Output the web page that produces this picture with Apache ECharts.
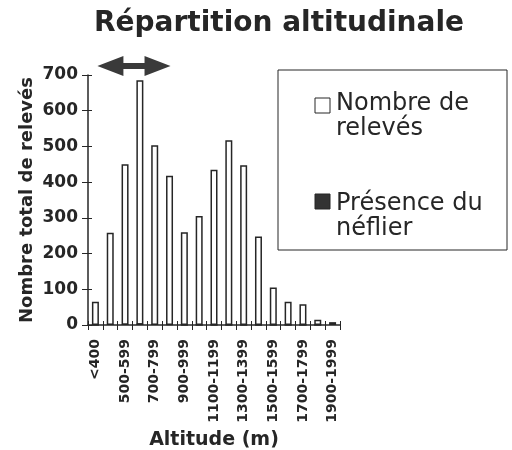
<!DOCTYPE html>
<html><head><meta charset="utf-8">
<script src="https://cdn.jsdelivr.net/npm/echarts@6/dist/echarts.min.js"></script>
<style>html,body{margin:0;padding:0;background:#fff}#c{width:512px;height:450px}</style>
</head><body><div id="c"></div>
<script>
const categories = ['<400','400-499','500-599','600-699','700-799','800-899','900-999','1000-1099','1100-1199','1200-1299','1300-1399','1400-1499','1500-1599','1600-1699','1700-1799','1800-1899','1900-1999'];
const releves = [65,258,450,685,503,418,260,305,435,517,447,248,105,65,58,15,8];
const neflier = [0,3,4,5,3,2,0,0,0,0,0,0,0,0,0,0,4];
const yTicks = [0,100,200,300,400,500,600,700];

const FONT = '"DejaVu Sans", sans-serif';
const ink = '#262626';
const chart = echarts.init(document.getElementById('c'));
chart.setOption({
  backgroundColor:'#fff',
  animation:false,
  title:{text:'Répartition altitudinale', left:274, textAlign:'center', top:5,
    textStyle:{fontFamily:FONT, fontWeight:'bold', fontSize:28, color:ink}},
  grid:{left:88, right:172, top:75, bottom:125, containLabel:false, outerBoundsMode:'none'},
  xAxis:[{type:'category', data:categories, name:'Altitude (m)', nameLocation:'middle', nameGap:99,
    nameTextStyle:{fontFamily:FONT, fontWeight:'bold', fontSize:19, color:ink},
    axisLine:{lineStyle:{color:ink, width:1.5}},
    axisTick:{show:true, interval:0, length:5, lineStyle:{color:ink}},
    axisLabel:{interval:1, rotate:90, fontFamily:FONT, fontWeight:'bold', fontSize:14, color:ink, margin:14}},
   {type:'category', data:categories, position:'bottom', axisLine:{show:false},
    axisTick:{show:true, inside:true, interval:0, length:4, lineStyle:{color:ink}}, axisLabel:{show:false}}],
  yAxis:[{type:'value', min:0, max:700, interval:100, name:'Nombre total de relevés', nameLocation:'middle', nameGap:52,
    nameTextStyle:{fontFamily:FONT, fontWeight:'bold', fontSize:18, color:ink},
    axisLine:{show:true, lineStyle:{color:ink, width:1.5}},
    axisTick:{show:true, length:6, lineStyle:{color:ink}},
    splitLine:{show:false},
    axisLabel:{fontFamily:FONT, fontWeight:'bold', fontSize:17, color:ink, margin:10,
      formatter:v=> yTicks.includes(v)? String(v):''}},
   {type:'value', min:0, max:700, interval:100, position:'left', axisLine:{show:false},
    axisTick:{show:true, inside:true, length:4, lineStyle:{color:ink}}, axisLabel:{show:false}, splitLine:{show:false}}],
  legend:{show:false},
  series:[
    {name:'Nombre de relevés', type:'bar', data:releves, barWidth:7, barGap:'-100%',
     itemStyle:{color:'#fff', borderColor:ink, borderWidth:1.5}},
    {name:'Présence du néflier', type:'bar', data:neflier, barWidth:7,
     itemStyle:{color:'#333', borderColor:ink, borderWidth:1}}
  ]
});
// annotation arrow + legend box
const p0 = chart.convertToPixel({xAxisIndex:0, yAxisIndex:0}, [0, 700]);
const p1 = chart.convertToPixel({xAxisIndex:0, yAxisIndex:0}, [5, 700]);
const ay = p0[1]-9, x0 = p0[0]+2, x1 = p1[0]+1, hw = 26, hh = 10, sh = 3;
chart.setOption({graphic:[
  {type:'polygon', shape:{points:[[x0,ay],[x0+hw,ay-hh],[x0+hw,ay-sh],[x1-hw,ay-sh],[x1-hw,ay-hh],[x1,ay],[x1-hw,ay+hh],[x1-hw,ay+sh],[x0+hw,ay+sh],[x0+hw,ay+hh]]},
   style:{fill:'#3a3a3a'}},
  {type:'rect', shape:{x:278, y:70, width:229, height:180}, style:{fill:'#fff', stroke:ink, lineWidth:1}},
  {type:'rect', shape:{x:315, y:98, width:15, height:15}, style:{fill:'#fff', stroke:ink, lineWidth:1}},
  {type:'text', x:336, y:104, style:{text:'Nombre de', font:'24px '+FONT, fill:ink, verticalAlign:'middle'}},
  {type:'text', x:336, y:129, style:{text:'relevés', font:'24px '+FONT, fill:ink, verticalAlign:'middle'}},
  {type:'rect', shape:{x:315, y:194, width:15, height:15}, style:{fill:'#333', stroke:ink, lineWidth:1}},
  {type:'text', x:336, y:204, style:{text:'Présence du', font:'24px '+FONT, fill:ink, verticalAlign:'middle'}},
  {type:'text', x:336, y:229, style:{text:'néflier', font:'24px '+FONT, fill:ink, verticalAlign:'middle'}}
]});
</script></body></html>
